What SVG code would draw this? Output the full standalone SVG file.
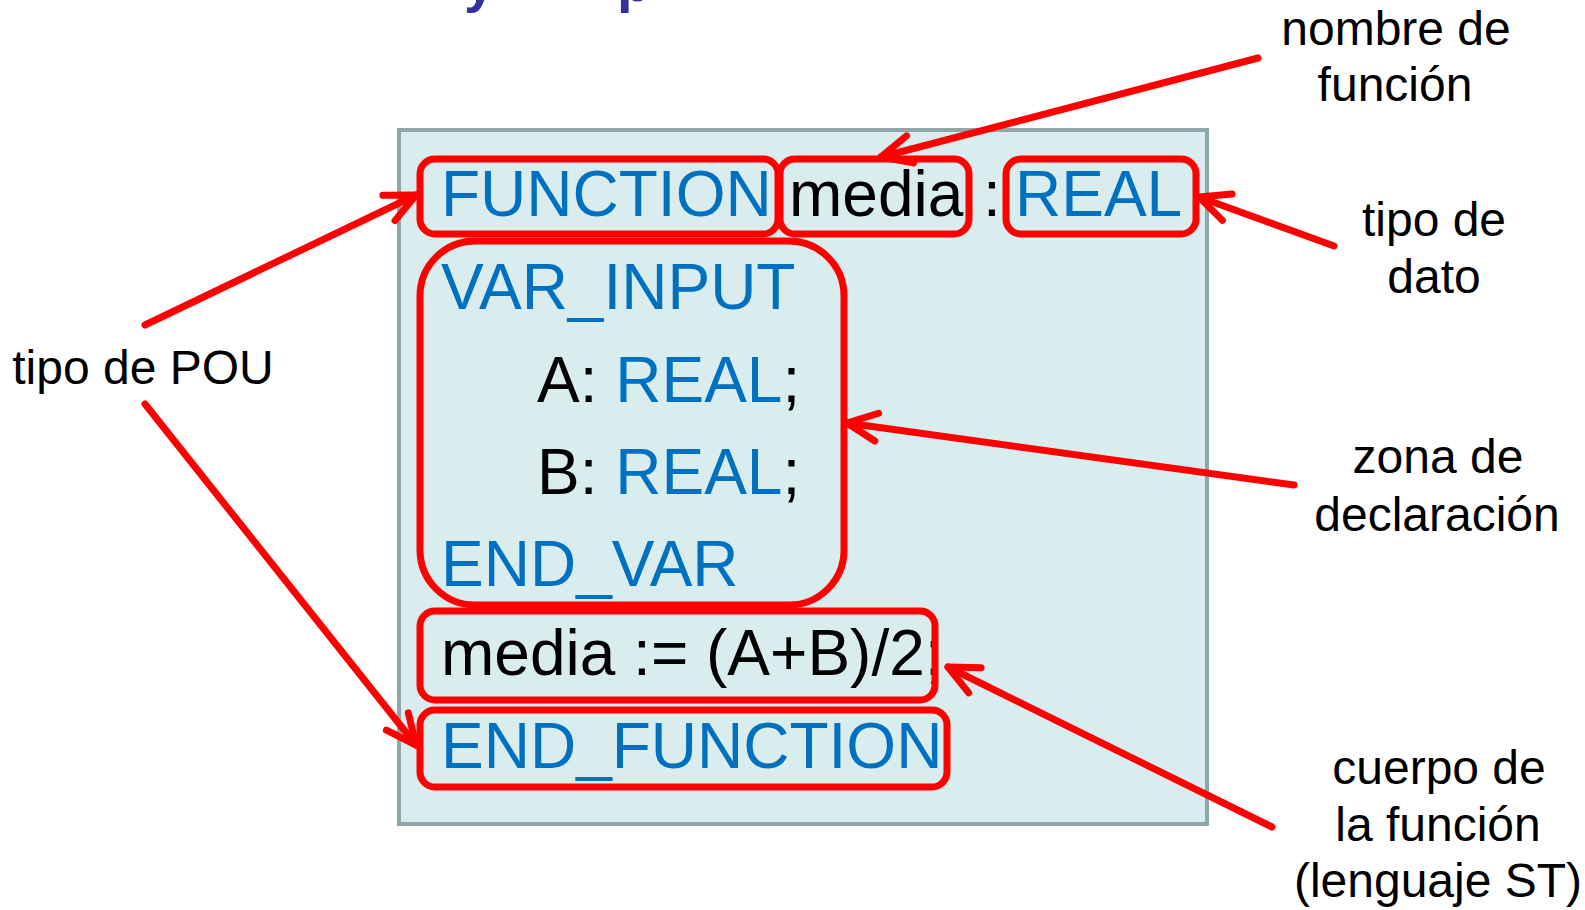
<svg xmlns="http://www.w3.org/2000/svg" width="1585" height="910" viewBox="0 0 1585 910">
  <style>
    .code { font-family: "Liberation Sans", Arial, sans-serif; font-size: 64px; }
    .kw { fill: #0070C0; }
    .id { fill: #000000; }
    .label { font-family: "Liberation Sans", Arial, sans-serif; font-size: 48px; fill: #000000; text-anchor: middle; }
    .hl { fill: none; stroke: #FF0000; stroke-width: 7; }
    .arrow { fill: none; stroke: #FF0000; stroke-width: 7; stroke-linecap: round; marker-end: url(#chevron); }
    .title { font-family: "Liberation Sans", Arial, sans-serif; font-weight: bold; font-size: 56px; fill: #333399; }
  </style>
  <defs>
    <marker id="chevron" markerUnits="userSpaceOnUse" markerWidth="60" markerHeight="60" viewBox="-40 -30 50 60" refX="0" refY="0" orient="auto" overflow="visible">
      <path d="M -30 -14 L 0 0 L -30 14" fill="none" stroke="#FF0000" stroke-width="7" stroke-linecap="round" stroke-linejoin="round"/>
    </marker>
  </defs>

  <rect width="1585" height="910" fill="#FFFFFF"/>

  <!-- heading, clipped by the top edge -->
  <g id="heading">
    <text class="title" x="464" y="1">y</text>
    <text class="title" x="617" y="1">p</text>
  </g>

  <!-- code panel -->
  <g id="panel">
    <rect x="399" y="130" width="808" height="694" fill="#DAEDEE" stroke="#8FA7A9" stroke-width="4"/>
  </g>

  <!-- source lines -->
  <g id="code">
    <text class="code kw" x="441" y="216">FUNCTION</text>
    <text class="code id" x="789" y="216">media</text>
    <text class="code id" x="983" y="216">:</text>
    <text class="code kw" x="1015" y="216">REAL</text>
    <text class="code kw" x="441" y="309">VAR_INPUT</text>
    <text class="code id" x="537" y="402">A: <tspan class="kw">REAL</tspan>;</text>
    <text class="code id" x="537" y="494">B: <tspan class="kw">REAL</tspan>;</text>
    <text class="code kw" x="441" y="586">END_VAR</text>
    <text class="code id" x="441" y="675">media := (A+B)/2;</text>
    <text class="code kw" x="441" y="768">END_FUNCTION</text>
  </g>

  <!-- highlighted regions -->
  <g id="box-function"><rect class="hl" x="420" y="159" width="358" height="75" rx="15"/></g>
  <g id="box-name"><rect class="hl" x="780" y="159" width="189" height="75" rx="15"/></g>
  <g id="box-type"><rect class="hl" x="1006" y="159" width="190" height="75" rx="15"/></g>
  <g id="box-declaration"><rect class="hl" x="420" y="241" width="424" height="364" rx="55"/></g>
  <g id="box-body"><rect class="hl" x="420" y="611" width="515" height="89" rx="15"/></g>
  <g id="box-end"><rect class="hl" x="420" y="710" width="527" height="77" rx="15"/></g>

  <!-- callout labels -->
  <g id="label-pou"><text class="label" x="143" y="384">tipo de POU</text></g>
  <g id="label-name">
    <text class="label" x="1396" y="45">nombre de</text>
    <text class="label" x="1395" y="101">función</text>
  </g>
  <g id="label-type">
    <text class="label" x="1434" y="236">tipo de</text>
    <text class="label" x="1434" y="293">dato</text>
  </g>
  <g id="label-declaration">
    <text class="label" x="1438" y="473">zona de</text>
    <text class="label" x="1437" y="531">declaración</text>
  </g>
  <g id="label-body">
    <text class="label" x="1439" y="784">cuerpo de</text>
    <text class="label" x="1438" y="841">la función</text>
    <text class="label" x="1438" y="897">(lenguaje ST)</text>
  </g>

  <!-- connectors -->
  <g id="connectors">
    <line class="arrow" x1="1258" y1="58" x2="881" y2="157"/>
    <line class="arrow" x1="1334" y1="246" x2="1199" y2="197"/>
    <line class="arrow" x1="1294" y1="485" x2="847" y2="423"/>
    <line class="arrow" x1="1272" y1="827" x2="948" y2="667"/>
    <line class="arrow" x1="145" y1="325" x2="416" y2="195"/>
    <line class="arrow" x1="145" y1="404" x2="416" y2="745"/>
  </g>
</svg>
